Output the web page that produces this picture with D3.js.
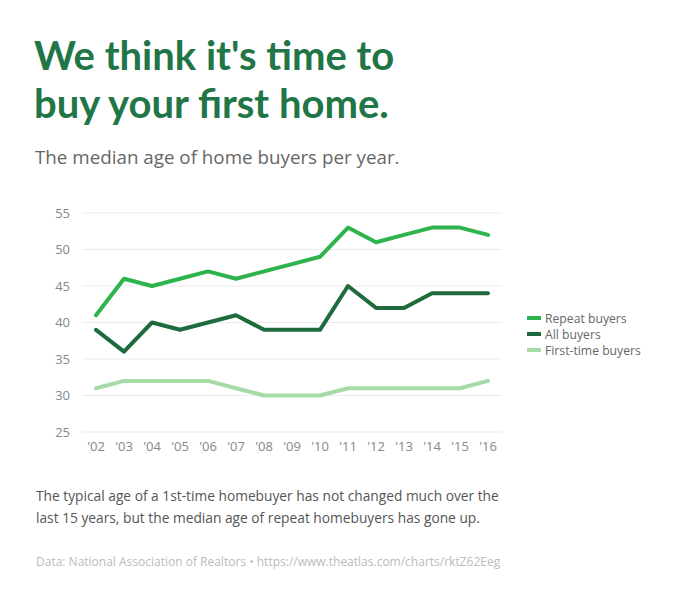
<!DOCTYPE html>
<html>
<head>
<meta charset="utf-8">
<script src="https://cdn.jsdelivr.net/npm/d3@7"></script>
<style>
  body { margin: 0; background: #fff; }
  svg text { font-family: "Open Sans", sans-serif; }
</style>
</head>
<body>
<div id="chart"></div>
<script>
const years = ['02', '03', '04', '05', '06', '07', '08', '09', '10', '11', '12', '13', '14', '15', '16'];
const repeatBuyers = [41, 46, 45, 46, 47, 46, 47, 48, 49, 53, 51, 52, 53, 53, 52];
const allBuyers = [39, 36, 40, 39, 40, 41, 39, 39, 39, 45, 42, 42, 44, 44, 44];
const firstTimeBuyers = [31, 32, 32, 32, 32, 31, 30, 30, 30, 31, 31, 31, 31, 31, 32];
const yTicks = [25, 30, 35, 40, 45, 50, 55];

const series = [
  { name: 'Repeat buyers', values: repeatBuyers, color: '#2eb34d' },
  { name: 'All buyers', values: allBuyers, color: '#1f6b3d' },
  { name: 'First-time buyers', values: firstTimeBuyers, color: '#a6dba8' },
];

const width = 700, height = 600;
const svg = d3.select('#chart').append('svg')
  .attr('width', width)
  .attr('height', height);

// Title
const title = svg.append('g').attr('fill', '#217546')
  .attr('font-weight', 'bold').attr('font-size', 40);
['We think it\'s time to', 'buy your first home.'].forEach((t, i) => {
  title.append('text')
    .attr('x', 34).attr('y', 70 + i * 48)
    .style('font-family', 'Lato, sans-serif')
    .text(t);
});

svg.append('text')
  .attr('x', 35).attr('y', 164)
  .attr('font-size', 18.8).attr('fill', '#666')
  .text('The median age of home buyers per year.');

// Scales
const x = d3.scalePoint().domain(years).range([96, 488]);
const y = d3.scaleLinear().domain([25, 55]).range([432, 213]);

// Grid
svg.append('g').selectAll('line')
  .data(yTicks)
  .join('line')
  .attr('x1', 82).attr('x2', 502)
  .attr('y1', d => y(d)).attr('y2', d => y(d))
  .attr('stroke', '#ebebeb').attr('stroke-width', 1);

svg.append('g').selectAll('text')
  .data(yTicks)
  .join('text')
  .attr('x', 70).attr('y', d => y(d) + 4.5)
  .attr('text-anchor', 'end')
  .attr('font-size', 13).attr('fill', '#888')
  .text(d => d);

svg.append('g').selectAll('text')
  .data(years)
  .join('text')
  .attr('x', d => x(d)).attr('y', 451)
  .attr('text-anchor', 'middle')
  .attr('font-size', 13).attr('fill', '#888')
  .text(d => '\'' + d);

// Lines (draw first-time at back, repeat on top)
const line = d3.line()
  .x((d, i) => x(years[i]))
  .y(d => y(d));

svg.append('g').selectAll('path')
  .data(series.slice().reverse())
  .join('path')
  .attr('d', d => line(d.values))
  .attr('fill', 'none')
  .attr('stroke', d => d.color)
  .attr('stroke-width', 4)
  .attr('stroke-linejoin', 'round')
  .attr('stroke-linecap', 'round');

// Legend
const legend = svg.append('g').selectAll('g')
  .data(series)
  .join('g')
  .attr('transform', (d, i) => `translate(527,${318 + i * 16})`);
legend.append('rect')
  .attr('x', 0).attr('y', -2).attr('width', 14).attr('height', 4)
  .attr('fill', d => d.color);
legend.append('text')
  .attr('x', 18).attr('y', 4.5)
  .attr('font-size', 12.2).attr('fill', '#666')
  .text(d => d.name);

// Notes
const note = ['The typical age of a 1st-time homebuyer has not changed much over the',
  'last 15 years, but the median age of repeat homebuyers has gone up.'];
svg.append('g').selectAll('text')
  .data(note)
  .join('text')
  .attr('x', 36).attr('y', (d, i) => 501 + i * 22)
  .attr('font-size', 13.75).attr('fill', '#555')
  .text(d => d);

svg.append('text')
  .attr('x', 36).attr('y', 566)
  .attr('font-size', 12).attr('fill', '#bbb')
  .text('Data: National Association of Realtors \u2022 https://www.theatlas.com/charts/rktZ62Eeg');
</script>
</body>
</html>
